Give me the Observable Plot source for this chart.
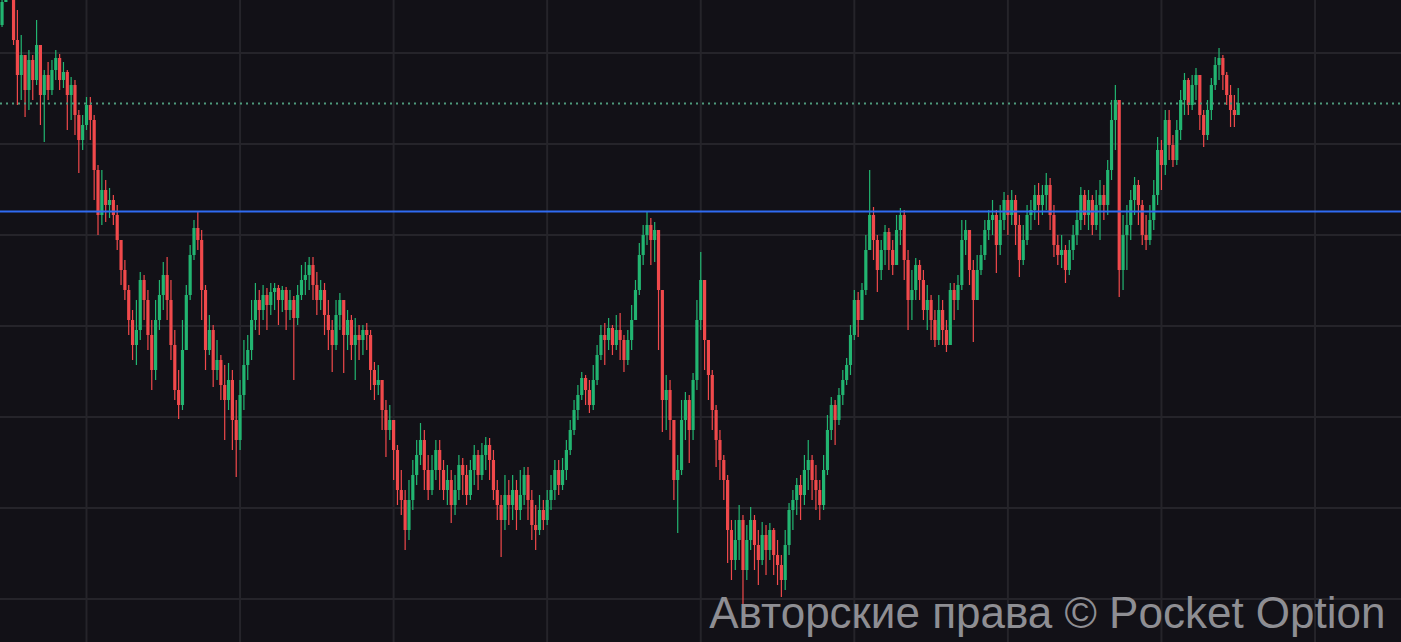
<!DOCTYPE html>
<html>
<head>
<meta charset="utf-8">
<script src="https://cdn.jsdelivr.net/npm/d3@7"></script>
<script src="https://cdn.jsdelivr.net/npm/@observablehq/plot@0.6"></script>
<style>
  html, body { margin: 0; padding: 0; background: #121117; overflow: hidden; }
  #chart { width: 1401px; height: 642px; }
</style>
</head>
<body>
<div id="chart"></div>
<script>
// Price units: arbitrary (chart shows no axis labels)
const firstOpen = 617;
const close = [
  640, 657, 652, 602, 567, 587, 552, 582, 562, 597,
  547, 567, 552, 572, 584, 562, 570, 547, 557, 527,
  502, 517, 537, 522, 472, 427, 452, 437, 442, 427,
  402, 372, 352, 322, 297, 312, 362, 342, 307, 272,
  322, 347, 367, 342, 297, 252, 237, 292, 347, 387,
  414, 402, 352, 292, 312, 272, 282, 257, 242, 262,
  222, 202, 247, 277, 292, 322, 342, 332, 347, 337,
  350, 354, 342, 352, 332, 342, 324, 347, 362, 367,
  377, 357, 342, 352, 327, 312, 297, 327, 342, 307,
  322, 297, 307, 302, 312, 307, 272, 257, 262, 232,
  212, 222, 192, 152, 142, 112, 142, 167, 187, 202,
  172, 152, 172, 192, 172, 152, 162, 137, 152, 177,
  167, 147, 172, 187, 167, 187, 197, 182, 152, 137,
  122, 147, 137, 152, 132, 147, 167, 142, 117, 112,
  132, 122, 142, 152, 172, 157, 172, 192, 212, 232,
  247, 264, 252, 237, 262, 287, 307, 302, 314, 297,
  312, 302, 282, 302, 322, 352, 387, 407, 417, 402,
  412, 352, 242, 252, 222, 162, 172, 222, 242, 212,
  262, 322, 362, 302, 267, 232, 202, 182, 162, 112,
  82, 102, 122, 72, 102, 122, 97, 82, 107, 92,
  112, 87, 77, 62, 97, 132, 142, 157, 147, 172,
  182, 162, 152, 137, 172, 212, 237, 222, 247, 262,
  277, 307, 342, 322, 352, 392, 427, 402, 372, 392,
  410, 392, 377, 412, 427, 382, 342, 352, 377, 362,
  332, 342, 322, 302, 332, 312, 297, 352, 342, 357,
  402, 412, 372, 342, 372, 387, 412, 422, 427, 397,
  422, 442, 427, 442, 417, 382, 402, 427, 432, 447,
  437, 447, 457, 427, 397, 387, 392, 372, 392, 407,
  422, 447, 427, 442, 417, 437, 447, 437, 472, 522,
  542, 372, 407, 417, 442, 457, 437, 407, 402, 422,
  447, 492, 477, 522, 497, 482, 512, 542, 562, 537,
  557, 567, 527, 507, 532, 557, 577, 584, 567, 547,
  532, 527, 539
];
const high = [
  647, 667, 667, 652, 632, 607, 587, 592, 587, 622,
  592, 572, 580, 582, 592, 588, 580, 572, 565, 562,
  532, 527, 545, 545, 527, 477, 472, 462, 454, 447,
  437, 402, 382, 357, 332, 342, 370, 367, 352, 322,
  342, 362, 380, 385, 362, 312, 272, 322, 357, 397,
  422, 430, 412, 357, 327, 317, 302, 287, 277, 279,
  272, 242, 262, 302, 307, 342, 359, 352, 357, 354,
  359, 359, 357, 356, 355, 352, 346, 357, 377, 380,
  385, 385, 370, 362, 359, 342, 322, 342, 349, 342,
  332, 327, 324, 317, 317, 319, 312, 280, 277, 257,
  242, 237, 222, 197, 172, 152, 162, 182, 202, 219,
  212, 187, 187, 202, 202, 182, 177, 172, 167, 187,
  184, 177, 182, 197, 192, 199, 205, 204, 192, 162,
  147, 167, 162, 167, 162, 172, 175, 175, 152, 137,
  147, 142, 152, 167, 182, 182, 184, 202, 222, 242,
  257, 270, 267, 262, 277, 297, 317, 319, 324, 317,
  327, 329, 307, 312, 337, 362, 399, 417, 430, 424,
  420, 412, 352, 267, 262, 222, 187, 242, 250, 247,
  269, 342, 390, 362, 302, 272, 237, 212, 187, 167,
  122, 122, 137, 127, 117, 135, 127, 112, 120, 117,
  119, 114, 102, 87, 112, 139, 152, 164, 167, 187,
  202, 187, 177, 162, 187, 227, 245, 242, 254, 272,
  284, 317, 352, 350, 359, 407, 472, 435, 407, 402,
  417, 414, 402, 427, 434, 432, 392, 372, 384, 382,
  372, 357, 347, 332, 347, 342, 322, 359, 359, 367,
  422, 422, 407, 382, 387, 397, 422, 432, 442, 432,
  437, 450, 447, 452, 447, 427, 417, 437, 442, 457,
  459, 457, 469, 464, 437, 407, 407, 397, 402, 417,
  432, 455, 452, 452, 447, 452, 462, 457, 482, 542,
  557, 537, 427, 437, 452, 465, 462, 442, 427, 437,
  462, 505, 502, 532, 532, 507, 522, 552, 569, 564,
  567, 574, 567, 532, 542, 564, 585, 594, 587, 570,
  557, 547, 554
];
const low = [
  615, 642, 647, 597, 537, 542, 525, 532, 542, 557,
  517, 500, 542, 547, 562, 552, 554, 512, 522, 507,
  469, 492, 512, 502, 442, 407, 417, 420, 424, 417,
  392, 357, 342, 307, 282, 277, 302, 322, 292, 252,
  262, 312, 332, 322, 282, 242, 223, 232, 302, 342,
  382, 392, 322, 272, 287, 255, 262, 242, 202, 232,
  192, 165, 192, 232, 262, 282, 312, 307, 322, 312,
  327, 332, 317, 330, 312, 322, 262, 317, 342, 347,
  352, 342, 327, 332, 307, 292, 270, 292, 312, 269,
  292, 282, 262, 282, 287, 292, 252, 242, 247, 212,
  185, 202, 162, 137, 127, 92, 102, 132, 157, 177,
  152, 142, 147, 162, 152, 142, 137, 119, 127, 142,
  147, 137, 142, 157, 152, 162, 172, 162, 142, 122,
  85, 112, 117, 122, 112, 122, 137, 122, 102, 92,
  107, 112, 117, 132, 142, 147, 152, 162, 187, 207,
  222, 242, 237, 229, 232, 257, 282, 277, 292, 287,
  292, 282, 270, 277, 292, 322, 347, 377, 397, 377,
  380, 292, 210, 212, 202, 142, 109, 167, 202, 179,
  202, 252, 312, 272, 242, 212, 175, 162, 142, 79,
  62, 72, 82, 35, 62, 92, 72, 57, 77, 67,
  82, 67, 57, 45, 52, 87, 112, 127, 122, 137,
  152, 142, 132, 122, 132, 167, 202, 197, 217, 237,
  257, 267, 302, 305, 332, 347, 392, 382, 350, 362,
  377, 372, 367, 382, 397, 362, 312, 322, 342, 342,
  322, 312, 302, 295, 297, 297, 290, 297, 322, 332,
  352, 387, 357, 300, 342, 367, 382, 402, 407, 369,
  387, 412, 407, 417, 397, 365, 377, 397, 412, 422,
  417, 427, 432, 412, 385, 377, 374, 359, 367, 382,
  397, 412, 417, 412, 407, 412, 402, 422, 427, 462,
  492, 345, 352, 372, 402, 427, 417, 397, 392, 397,
  412, 437, 452, 467, 482, 475, 477, 502, 527, 527,
  532, 542, 512, 495, 502, 522, 552, 562, 552, 537,
  515, 515, 527
];
// grid ticks (candle index / price units)
const xGridTicks = [22, 62, 102, 142, 182, 222, 262, 302, 342];
const yGridTicks = [43.5, 134.5, 225.5, 316.5, 407.5, 498.5, 589.5];
const levelLine = 431;          // blue horizontal level
const currentPrice = close[close.length - 1]; // dotted current price line
const watermark = "Авторские права © Pocket Option";

const candles = close.map((c, i) => ({
  i,
  open: i === 0 ? firstOpen : close[i - 1],
  close: c,
  high: high[i],
  low: low[i]
}));
const green = "#22b571", red = "#f0494b";
const col = d => d.close >= d.open ? green : red;

const chart = Plot.plot({
  width: 1401,
  height: 642,
  margin: 0,
  style: { background: "#121117", overflow: "hidden" },
  x: { type: "linear", domain: [-0.4, 364.53], axis: null },
  y: { domain: [0, 642], axis: null },
  marks: [
    Plot.ruleX(xGridTicks, { stroke: "#25242a", strokeWidth: 2 }),
    Plot.ruleY(yGridTicks, { stroke: "#25242a", strokeWidth: 2 }),
    Plot.ruleX(candles, { x: "i", y1: "low", y2: "high", stroke: col, strokeWidth: 1.2, clip: true }),
    Plot.ruleX(candles, { x: "i", y1: "open", y2: "close", stroke: col, strokeWidth: 3.2, clip: true }),
    Plot.ruleY([levelLine], { stroke: "#2f6bf2", strokeWidth: 2 }),
    Plot.ruleY([currentPrice], { stroke: "#4e9a7c", strokeWidth: 2, strokeDasharray: "2,4" }),
    Plot.text([watermark], {
      frameAnchor: "bottom-right", dx: -16, dy: -15, lineAnchor: "bottom",
      textAnchor: "end", fontSize: 44, fill: "#8e8e93",
      fontFamily: "'Liberation Sans', Arial, sans-serif"
    })
  ]
});
document.getElementById("chart").appendChild(chart);
</script>
</body>
</html>
